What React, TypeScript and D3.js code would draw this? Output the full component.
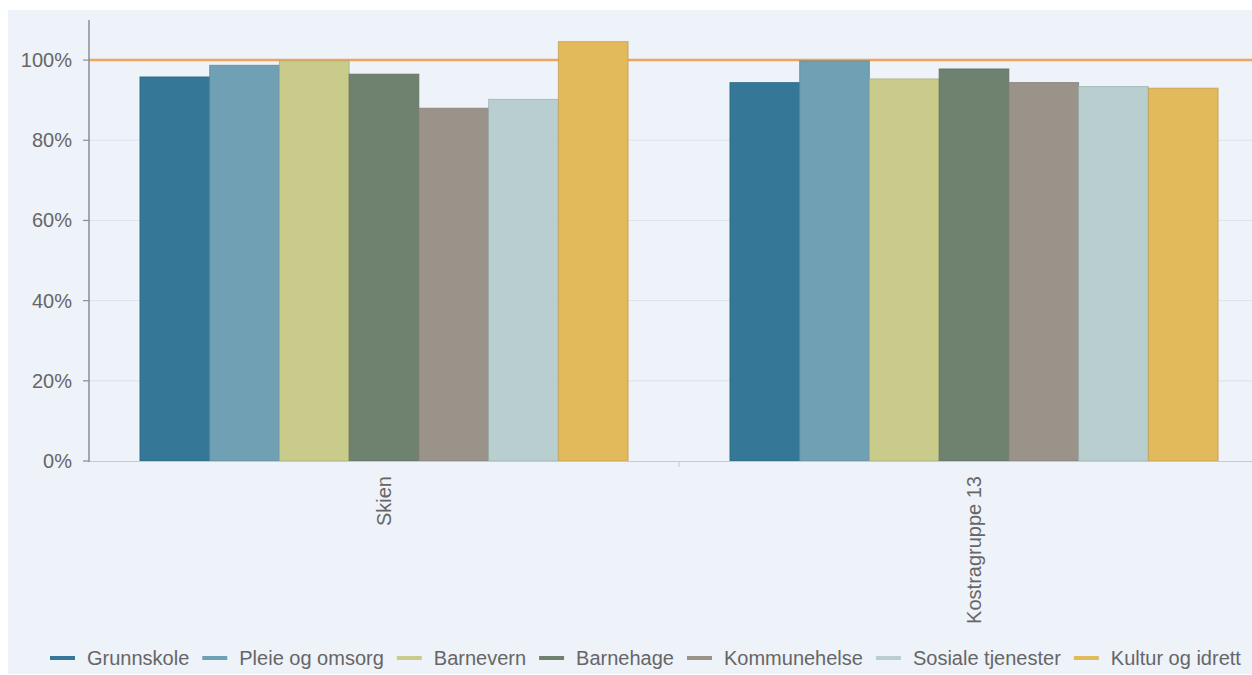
import React, { useEffect, useRef } from "react";
import * as d3 from "d3";

const groups = ["Skien", "Kostragruppe 13"];
const seriesNames = [
  "Grunnskole",
  "Pleie og omsorg",
  "Barnevern",
  "Barnehage",
  "Kommunehelse",
  "Sosiale tjenester",
  "Kultur og idrett",
];
const seriesColors = ["#347797", "#6fa0b3", "#c9cb8b", "#6f8270", "#9a9389", "#b9cfcf", "#e2b95b"];
const skienValues = [0.958, 0.987, 0.998, 0.965, 0.88, 0.902, 1.046];
const kostraValues = [0.944, 0.998, 0.953, 0.978, 0.944, 0.934, 0.93];
const yTicks = [0, 0.2, 0.4, 0.6, 0.8, 1.0];
const referenceValue = 1.0;

const W = 1252;
const H = 675;

export default function App() {
  const ref = useRef<SVGSVGElement>(null);

  useEffect(() => {
    const svg = d3.select(ref.current);
    svg.selectAll("*").remove();
    const font = "'Liberation Sans', Arial, sans-serif";
    const fs = 20;

    svg.append("rect").attr("x", 8).attr("y", 10).attr("width", W - 8).attr("height", 664).attr("fill", "#eef2f9");

    const left = 89;
    const zero = 461;
    const bandW = 590;
    const y = d3.scaleLinear().domain([0, 1.1]).range([zero, 20]);
    const x0 = d3.scaleBand<string>().domain(groups).range([left, left + 2 * bandW]).padding(0);
    const x1 = d3.scaleBand<string>().domain(seriesNames).range([0, x0.bandwidth()]).paddingInner(0).paddingOuter(0.73);

    // gridlines
    svg
      .append("g")
      .selectAll("line")
      .data(yTicks.filter((t) => t > 0))
      .join("line")
      .attr("x1", left)
      .attr("x2", W)
      .attr("y1", (d) => y(d))
      .attr("y2", (d) => y(d))
      .attr("stroke", "#dde2ea")
      .attr("stroke-width", 1);

    // reference line
    svg
      .append("line")
      .attr("x1", left)
      .attr("x2", W)
      .attr("y1", y(referenceValue))
      .attr("y2", y(referenceValue))
      .attr("stroke", "#f0a45c")
      .attr("stroke-width", 2.5);

    const data = [skienValues, kostraValues];
    groups.forEach((g, gi) => {
      const gx = x0(g)!;
      svg
        .append("g")
        .selectAll("rect")
        .data(seriesNames)
        .join("rect")
        .attr("x", (s) => gx + x1(s)!)
        .attr("width", x1.bandwidth())
        .attr("y", (s, i) => y(data[gi][i]))
        .attr("height", (s, i) => zero - y(data[gi][i]))
        .attr("fill", (s, i) => seriesColors[i])
        .attr("stroke", (s, i) => d3.color(seriesColors[i])!.darker(0.5).formatHex())
        .attr("stroke-width", 1)
        .attr("stroke-opacity", 0.7);
    });

    // x axis
    svg.append("line").attr("x1", left).attr("x2", W).attr("y1", zero + 0.5).attr("y2", zero + 0.5).attr("stroke", "#c4c9d2").attr("stroke-width", 1.2);
    svg
      .append("g")
      .selectAll("line")
      .data(groups.slice(1))
      .join("line")
      .attr("x1", (g) => x0(g)!)
      .attr("x2", (g) => x0(g)!)
      .attr("y1", zero)
      .attr("y2", zero + 6)
      .attr("stroke", "#c4c9d2");
    svg
      .append("g")
      .selectAll("text")
      .data(groups)
      .join("text")
      .attr("transform", (g) => `translate(${x0(g)! + x0.bandwidth() / 2},${zero + 15}) rotate(-90)`)
      .attr("text-anchor", "end")
      .attr("dominant-baseline", "central")
      .attr("font-family", font)
      .attr("font-size", fs)
      .attr("fill", "#666")
      .text((g) => g);

    // y axis
    svg.append("line").attr("x1", left).attr("x2", left).attr("y1", 20).attr("y2", zero + 1).attr("stroke", "#8a8d93").attr("stroke-width", 1.5);
    const yt = svg.append("g").selectAll("g").data(yTicks).join("g");
    yt.append("line")
      .attr("x1", left - 6)
      .attr("x2", left)
      .attr("y1", (d) => y(d))
      .attr("y2", (d) => y(d))
      .attr("stroke", "#8a8d93")
      .attr("stroke-width", 1.2);
    yt.append("text")
      .attr("x", left - 17)
      .attr("y", (d) => y(d))
      .attr("text-anchor", "end")
      .attr("dominant-baseline", "central")
      .attr("font-family", font)
      .attr("font-size", fs)
      .attr("fill", "#666")
      .text((d) => d3.format(".0%")(d));

    // legend
    const lg = svg.append("g");
    let cx = 50;
    const ly = 658;
    seriesNames.forEach((s, i) => {
      lg.append("line")
        .attr("x1", cx)
        .attr("x2", cx + 25)
        .attr("y1", ly)
        .attr("y2", ly)
        .attr("stroke", seriesColors[i])
        .attr("stroke-width", 4);
      const t = lg
        .append("text")
        .attr("x", cx + 37)
        .attr("y", ly)
        .attr("dominant-baseline", "central")
        .attr("font-family", font)
        .attr("font-size", fs)
        .attr("fill", "#666")
        .text(s);
      const w = (t.node() as SVGTextElement).getComputedTextLength();
      cx = cx + 37 + w + 13;
    });
  }, []);

  return (
    <svg
      ref={ref}
      width={W}
      height={H}
      style={{ position: "absolute", left: 0, top: 0, background: "#fff", overflow: "hidden" }}
    />
  );
}
